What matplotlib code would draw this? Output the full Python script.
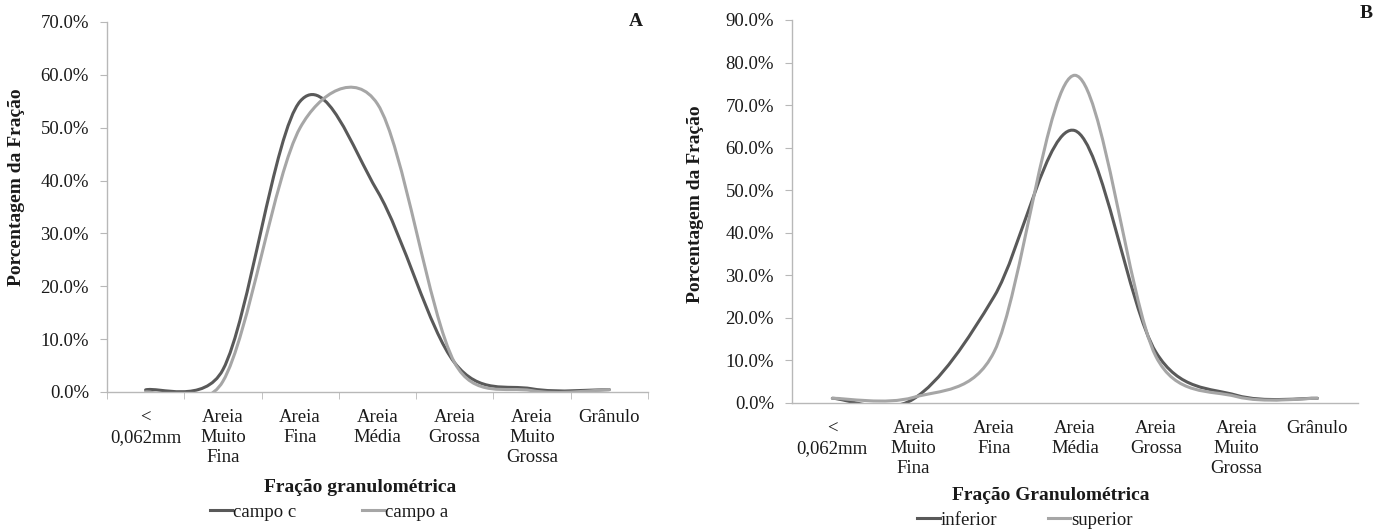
import numpy as np
import matplotlib.pyplot as plt
from matplotlib.path import Path
from matplotlib.patches import PathPatch
from matplotlib.lines import Line2D
from matplotlib.ticker import FuncFormatter

plt.rcParams['font.family'] = ['Liberation Serif', 'DejaVu Serif']

# grain size classes (same for both panels)
classes = ['<\n0,062mm', 'Areia\nMuito\nFina', 'Areia\nFina', 'Areia\nMédia',
           'Areia\nGrossa', 'Areia\nMuito\nGrossa', 'Grânulo']

# panel A, % of each fraction
campo_c = [0.4, 4.2, 55.0, 38.0, 5.5, 0.6, 0.45]
campo_a = [0.0, 2.0, 50.0, 54.5, 5.5, 0.25, 0.45]

# panel B, % of each fraction
inferior = [1.1, 0.9, 25.0, 64.0, 12.0, 1.8, 1.1]
superior = [1.1, 1.3, 12.0, 77.0, 11.0, 1.5, 1.1]

DARK = '#595959'
LIGHT = '#a6a6a6'
AXIS = '#b8b8b8'
TXT = '#1a1a1a'


def smooth_path(ax, x, y):
    """Bezier path through the points; control arms are 1/6 of the
    neighbour chord, capped at half the segment length (in pixels)."""
    pts = np.column_stack([x, y]).astype(float)
    px = ax.transData.transform(pts)
    n = len(pts)
    verts = [tuple(pts[0])]
    codes = [Path.MOVETO]
    for i in range(n - 1):
        i0 = max(i - 1, 0)
        i3 = min(i + 2, n - 1)
        d12 = np.hypot(*(px[i + 1] - px[i]))
        d02 = np.hypot(*(px[i + 1] - px[i0]))
        d13 = np.hypot(*(px[i3] - px[i]))
        f0 = 1 / 6 if d02 / 6 < d12 / 2 else d12 / (2 * d02)
        f1 = 1 / 6 if d13 / 6 < d12 / 2 else d12 / (2 * d13)
        c1 = pts[i] + f0 * (pts[i + 1] - pts[i0])
        c2 = pts[i + 1] - f1 * (pts[i3] - pts[i])
        verts += [tuple(c1), tuple(c2), tuple(pts[i + 1])]
        codes += [Path.CURVE4] * 3
    return Path(verts, codes)


def draw_panel(ax, series, colors, ymax, xticks_marks):
    x = np.arange(len(classes))
    ax.set_xlim(-0.5, len(classes) - 0.5)
    ax.set_ylim(0, ymax)
    for vals, c in zip(series, colors):
        patch = PathPatch(smooth_path(ax, x, vals), fill=False, edgecolor=c,
                          lw=2.2, capstyle='round', joinstyle='round')
        ax.add_patch(patch)
    ax.set_yticks(np.arange(0, ymax + 1, 10))
    ax.yaxis.set_major_formatter(FuncFormatter(lambda v, p: f'{v:.1f}%'))
    ax.set_xticks(x)
    ax.set_xticklabels(classes, linespacing=1.2)
    for s in ['top', 'right']:
        ax.spines[s].set_visible(False)
    for s in ['left', 'bottom']:
        ax.spines[s].set_color(AXIS)
        ax.spines[s].set_linewidth(1.0)
    ax.tick_params(axis='y', length=5, color=AXIS, labelsize=13.5,
                   labelcolor=TXT, pad=8)
    ax.tick_params(axis='x', which='major', length=0, labelsize=13.5,
                   labelcolor=TXT, pad=12.5)
    if xticks_marks:
        ax.set_xticks(np.arange(-0.5, len(classes)), minor=True)
        ax.tick_params(axis='x', which='minor', length=5, color=AXIS)


fig = plt.figure(figsize=(13.78, 5.31), dpi=100)

ax1 = fig.add_axes([0.0776, 0.2618, 0.3926, 0.6968])
draw_panel(ax1, [campo_c, campo_a], [DARK, LIGHT], 70, True)

ax2 = fig.add_axes([0.5747, 0.2411, 0.4107, 0.7213])
draw_panel(ax2, [inferior, superior], [DARK, LIGHT], 90, False)

W, H = 1378, 531

# axis titles
fig.text(17 / W, 1 - 187 / H, 'Porcentagem da Fração', rotation=90,
         ha='center', va='center', fontsize=14, fontweight='bold', color=TXT)
fig.text(695 / W, 1 - 204 / H, 'Porcentagem da Fração', rotation=90,
         ha='center', va='center', fontsize=14, fontweight='bold', color=TXT)
fig.text(360 / W, 1 - 487 / H, 'Fração granulométrica', ha='center',
         va='center', fontsize=14, fontweight='bold', color=TXT)
fig.text(1051 / W, 1 - 495 / H, 'Fração Granulométrica', ha='center',
         va='center', fontsize=14, fontweight='bold', color=TXT)

# panel letters
fig.text(636 / W, 1 - 22 / H, 'A', ha='center', va='center', fontsize=14,
         fontweight='bold', color=TXT)
fig.text(1366 / W, 1 - 13 / H, 'B', ha='center', va='center', fontsize=14,
         fontweight='bold', color=TXT)


def legend(labels, center_x, center_y, spacing):
    handles = [Line2D([], [], color=DARK, lw=2.2),
               Line2D([], [], color=LIGHT, lw=2.2)]
    fig.legend(handles, labels, ncol=2, loc='center',
               bbox_to_anchor=(center_x / W, 1 - center_y / H),
               frameon=False, fontsize=13.5, handlelength=1.2,
               handletextpad=0.05, columnspacing=spacing, labelcolor=TXT,
               borderpad=0, borderaxespad=0)


legend(['campo c', 'campo a'], 329, 512, 3.5)
legend(['inferior', 'superior'], 1025, 520, 2.7)

fig.savefig('out.png', dpi=100)
